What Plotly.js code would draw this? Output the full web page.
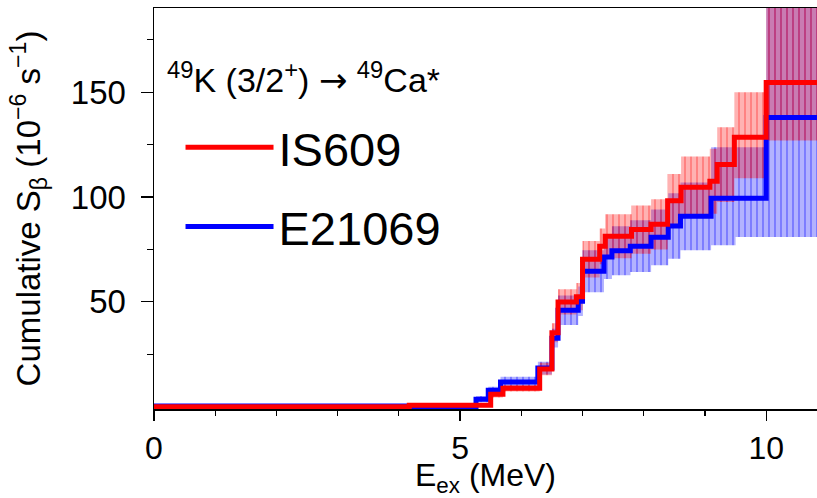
<!DOCTYPE html>
<html>
<head>
<meta charset="utf-8">
<script src="https://cdn.plot.ly/plotly-3.0.1.min.js"></script>
<style>html,body{margin:0;padding:0;background:#fff;}#chart{width:817px;height:498px;}</style>
</head>
<body>
<div id="chart"></div>
<script>
// IS609 (red): step start energies (MeV), cumulative S_beta, lower/upper errors
var is609X   = [0.0, 4.17, 5.5, 5.7, 6.3, 6.5, 6.6, 6.9, 7.0, 7.28, 7.37, 7.8, 8.12, 8.39, 8.61, 9.08, 9.2, 9.48, 10.0];
var is609Y   = [0.0, 0.7, 5.9, 8.8, 18.0, 35.3, 50.0, 52.5, 70.3, 76.5, 81.3, 84.5, 87.0, 98.3, 104.7, 107.5, 115.5, 128.5, 154.6];
var is609Lo  = [0.3, 0.4, 1.5, 1.5, 3.0, 4.5, 6.0, 6.5, 8.7, 8.5, 10.5, 11.5, 12.0, 12.7, 14.7, 15.5, 17.8, 19.5, 27.6];
var is609Hi  = [0.3, 0.4, 1.5, 1.5, 3.0, 4.5, 6.0, 6.5, 8.7, 8.5, 10.5, 11.5, 12.0, 12.7, 14.7, 15.5, 17.8, 21.5, 45.0];
// E21069 (blue)
var e21069X  = [0.0, 4.17, 5.26, 5.46, 5.66, 6.27, 6.5, 6.6, 6.93, 7.0, 7.35, 7.48, 7.78, 8.12, 8.4, 8.6, 9.1, 9.5, 10.0];
var e21069Y  = [0.3, 0.0, 3.6, 7.8, 11.8, 18.4, 32.7, 46.0, 50.3, 64.6, 71.4, 74.4, 76.6, 80.8, 86.2, 90.8, 99.4, 99.4, 138.0];
var e21069Lo = [0.3, 0.3, 1.5, 1.7, 2.5, 3.0, 4.5, 7.0, 7.0, 10.0, 10.5, 11.7, 12.3, 13.3, 15.6, 16.2, 22.4, 18.4, 57.0];
var e21069Hi = [0.3, 0.3, 1.5, 1.7, 2.5, 3.0, 4.5, 7.0, 7.0, 10.0, 10.5, 11.7, 12.3, 13.3, 15.6, 16.2, 24.4, 24.4, 57.0];
var xEnd = 11.0;

var seriesNames = ['IS609', 'E21069'];
var xTickVals = [0, 5, 10];
var yTickVals = [50, 100, 150];

function closeX(xs){ return xs.concat([xEnd]); }
function closeY(ys){ return ys.concat([ys[ys.length-1]]); }
function band(xs, ys, lo, hi, fill, fg){
  var lower = ys.map(function(v,i){return v - lo[i];});
  var upper = ys.map(function(v,i){return v + hi[i];});
  return [
    {x: closeX(xs), y: closeY(lower), mode:'lines', line:{shape:'hv', width:0, color:'rgba(0,0,0,0)'}, showlegend:false, hoverinfo:'skip'},
    {x: closeX(xs), y: closeY(upper), mode:'lines', line:{shape:'hv', width:0, color:'rgba(0,0,0,0)'}, fill:'tonexty', fillcolor:fill,
     fillpattern:{shape:'|', bgcolor:fill, fgcolor:fg, fgopacity:1, size:6, solidity:0.2}, showlegend:false, hoverinfo:'skip'}
  ];
}

var traces = [];
traces = traces.concat(band(e21069X, e21069Y, e21069Lo, e21069Hi, 'rgba(0,0,255,0.3)', 'rgba(0,0,255,0.5)'));
traces = traces.concat(band(is609X, is609Y, is609Lo, is609Hi, 'rgba(255,0,0,0.3)', 'rgba(255,0,0,0.45)'));
traces.push({x: closeX(e21069X), y: closeY(e21069Y), mode:'lines', name: seriesNames[1], legendgroup:'b', legendrank:2,
  line:{shape:'hv', color:'#0000ff', width:5}});
traces.push({x: closeX(is609X), y: closeY(is609Y), mode:'lines', name: seriesNames[0], legendgroup:'a', legendrank:1,
  line:{shape:'hv', color:'#ff0000', width:5}});

var fontFam = 'Liberation Sans, Arial, Helvetica, sans-serif';
var layout = {
  width: 817, height: 498,
  margin: {l:154, r:0, t:8, b:89},
  paper_bgcolor:'#ffffff', plot_bgcolor:'#ffffff',
  font:{family: fontFam, color:'#000', size:31},
  showlegend: true,
  legend: {x:0.04, y:0.745, xanchor:'left', yanchor:'top', bgcolor:'rgba(0,0,0,0)',
    font:{size:47, family: fontFam}, itemwidth: 88, traceorder:'grouped', tracegroupgap: 15},
  xaxis: {range:[0, 10.83], tickvals: xTickVals, ticktext: xTickVals.map(String), ticks:'outside', ticklen:10, tickwidth:1.2, tickcolor:'#000',
    minor:{tickvals:[1,2,3,4,6,7,8,9], ticks:'outside', ticklen:5, tickcolor:'#000', tickwidth:1.2},
    showline:true, linecolor:'#000', linewidth:1.5, mirror:true, showgrid:false, zeroline:false,
    tickfont:{size:32}, title:{text:'E<sub>ex</sub> (MeV)', font:{size:32}, standoff:0}},
  yaxis: {range:[-1.1, 190.2], tickvals: yTickVals, ticktext: yTickVals.map(String), ticks:'outside', ticklen:12, tickwidth:1.2, tickcolor:'#000',
    ticklabelstandoff: 8,
    minor:{tickvals:[25,75,125,175], ticks:'outside', ticklen:6, tickcolor:'#000', tickwidth:1.2},
    showline:true, linecolor:'#000', linewidth:1.5, mirror:false, showgrid:false, zeroline:false,
    tickfont:{size:33}, title:{text:'Cumulative S<sub>β</sub> (10<sup>−6</sup> s<sup>−1</sup>)', font:{size:33}, standoff:20}},
  annotations: [{xref:'paper', yref:'paper', x:0.017, y:0.825, xanchor:'left', yanchor:'middle', showarrow:false,
    text:'<sup>49</sup>K (3/2<sup>+</sup>) <span style="font-family:DejaVu Sans">→</span> <sup>49</sup>Ca*', font:{size:34, family: fontFam, color:'#000'}}]
};
Plotly.newPlot('chart', traces, layout, {displayModeBar:false, staticPlot:true});
</script>
</body>
</html>
